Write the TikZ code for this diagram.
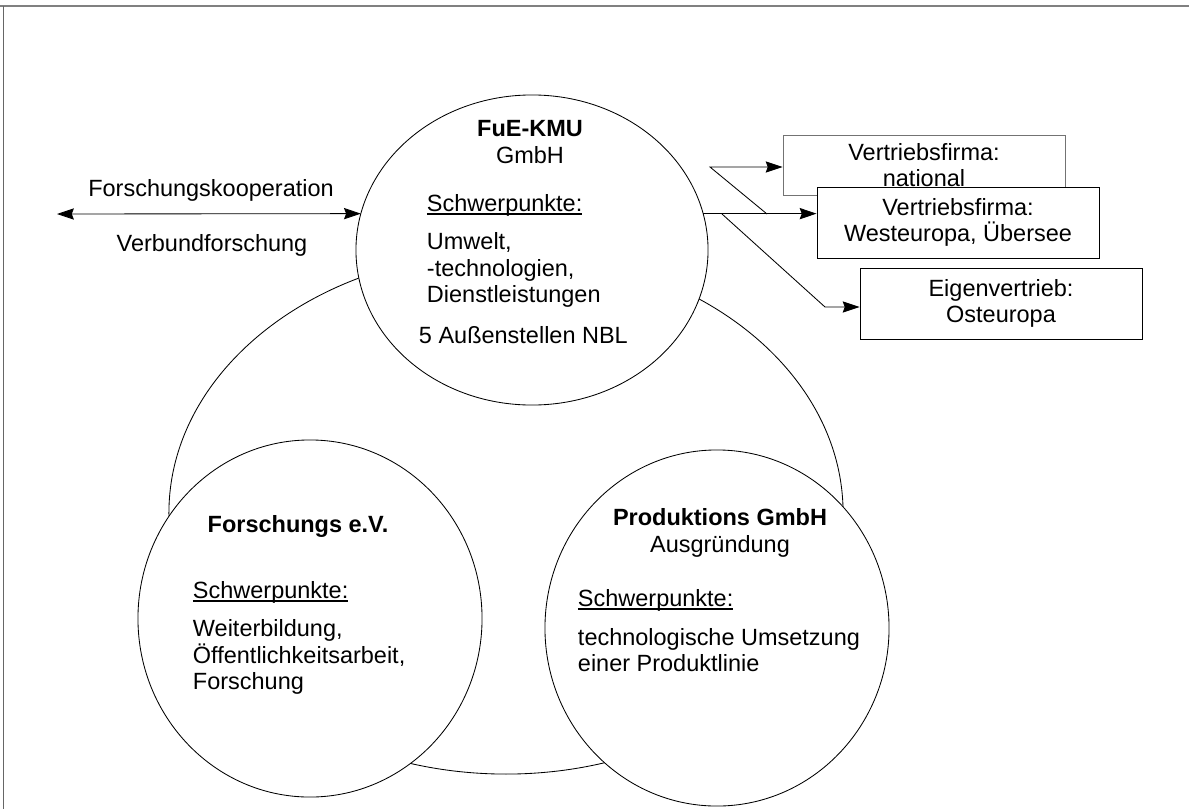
\documentclass[tikz,border=0pt]{standalone}
\usepackage{fontspec}
\setmainfont{Liberation Sans}
\usetikzlibrary{shapes.geometric,arrows.meta,positioning,calc}
\newcommand\unterstrich[1]{\setbox0=\hbox{#1}\rlap{\rule[-2.6pt]{\wd0}{0.9pt}}\box0}

\begin{document}
\begin{tikzpicture}[x=0.025cm, y=-0.025cm, font=\fontsize{16.7}{19}\selectfont,
        kreis/.style={draw, ellipse, fill=white, inner sep=0pt, outer sep=0pt, line width=0.6pt},
        kasten/.style={draw, rectangle, fill=white, minimum width=7.05cm, align=center, inner sep=0pt, line width=0.6pt},
        pfeil/.style={-{Stealth[length=12pt, width=8pt, inset=1.5pt]}, line width=0.6pt}]
        \useasboundingbox (0,0) rectangle (1189,809);

        % Rahmen
        \draw[gray, line width=1.5pt] (0,6) -- (1189,6);
        \draw[black!60, line width=0.6pt] (3,6) -- (3,809);

        % Verbund (grosse Ellipse) und drei Kreise
        \node[draw, ellipse, inner sep=0pt, line width=0.6pt, minimum width=16.85cm, minimum height=13.05cm] (verbund) at (506,513) {};
        \node[kreis, minimum width=8.8cm, minimum height=7.75cm] (fue) at (532,250) {};
        \node[kreis, minimum width=8.6cm, minimum height=8.925cm] (verein) at (310,618.5) {};
        \node[kreis, minimum width=8.6cm, minimum height=8.9cm] (prod) at (717,628) {};

        % FuE-KMU
        \node[align=center] (fue_titel) at (530,142) {\textbf{FuE-KMU}\\GmbH};
        \node[anchor=west] (fue_sp) at (422,205) {\unterstrich{Schwerpunkte:}};
        \node[anchor=west, align=left] (fue_liste) at (422,270) {Umwelt,\\-technologien,\\Dienstleistungen};
        \node[anchor=west] (fue_nbl) at (414,335) {5 Außenstellen NBL};

        % Forschungs e.V.
        \node (verein_titel) at (298,526) {\textbf{Forschungs e.V.}};
        \node[anchor=west] (verein_sp) at (188,592) {\unterstrich{Schwerpunkte:}};
        \node[anchor=west, align=left] (verein_liste) at (188,657) {Weiterbildung,\\Öffentlichkeitsarbeit,\\Forschung};

        % Produktions GmbH
        \node[align=center] (prod_titel) at (720,533) {\textbf{Produktions GmbH}\\Ausgründung};
        \node[anchor=west] (prod_sp) at (573,600) {\unterstrich{Schwerpunkte:}};
        \node[anchor=west, align=left] (prod_liste) at (573,650) {technologische Umsetzung\\einer Produktlinie};

        % Kooperation links
        \coordinate (koop) at (57,214);
        \draw[pfeil, {Stealth[length=12pt, width=8pt, inset=1.5pt]}-{Stealth[length=12pt, width=8pt, inset=1.5pt]}] (koop) -- (fue.168);
        \node (koop_oben) at (211,190) {Forschungskooperation};
        \node (koop_unten) at (212,245) {Verbundforschung};

        % Vertrieb rechts
        \node[kasten, minimum height=1.5cm, draw=black!55] (nat) at (924,165) {Vertriebsfirma:\\national};
        \node[kasten, minimum height=1.775cm] (west) at (958,222.5) {Vertriebsfirma:\\Westeuropa, Übersee};
        \node[kasten, minimum height=1.775cm] (ost) at (1001,303.5) {Eigenvertrieb:\\Osteuropa};

        \coordinate (k1) at (722,214);
        \coordinate (k2) at (825,307);
        \coordinate (k3) at (767,214);
        \coordinate (k4) at (710,167);

        \draw[pfeil] (fue.12) -- (fue.12 -| west.west);
        \draw[pfeil] (k1) -- (k2) -- (k2 -| ost.west);
        \draw[pfeil] (k3) -- (k4) -- (k4 -| nat.west);

    \end{tikzpicture}
\end{document}
